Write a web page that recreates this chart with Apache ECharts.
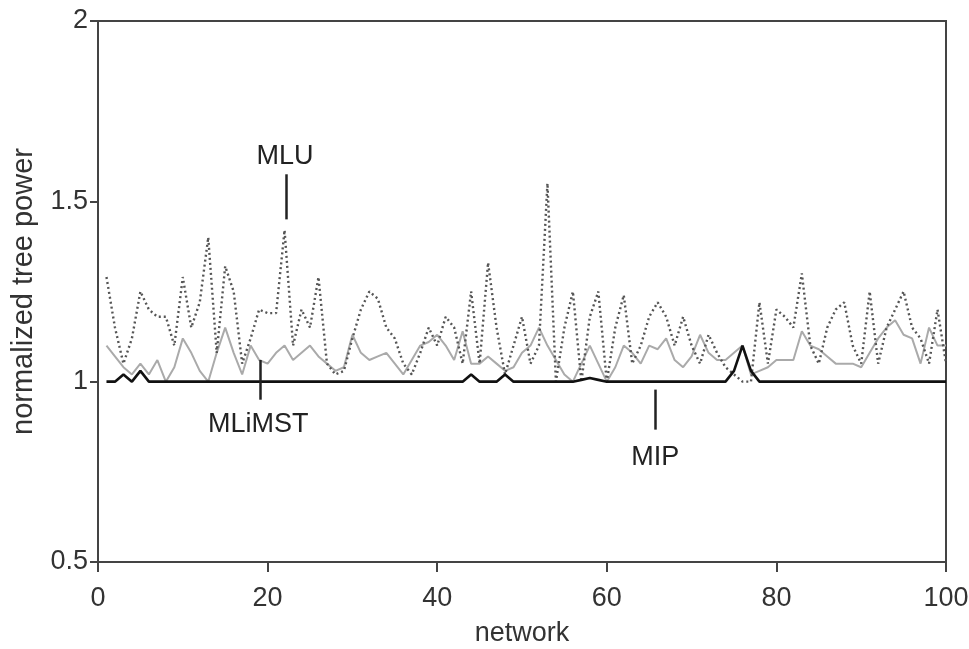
<!DOCTYPE html>
<html><head><meta charset="utf-8">
<script src="https://cdn.jsdelivr.net/npm/echarts@6/dist/echarts.min.js"></script>
<style>html,body{margin:0;padding:0;background:#fff}#c{width:969px;height:649px}</style>
</head><body><div id="c"></div>
<script>
const networks = Array.from({length:100},(_,i)=>i+1);
const mlu = [1.29,1.15,1.05,1.12,1.25,1.2,1.18,1.18,1.1,1.29,1.15,1.22,1.40,1.08,1.32,1.25,1.05,1.12,1.2,1.19,
1.19,1.42,1.1,1.2,1.15,1.29,1.05,1.02,1.03,1.12,1.2,1.25,1.23,1.15,1.12,1.05,1.02,1.08,1.15,1.1,
1.18,1.15,1.05,1.25,1.05,1.33,1.15,1.02,1.1,1.18,1.05,1.1,1.55,1.0,1.15,1.25,1.0,1.18,1.25,1.0,
1.15,1.24,1.05,1.1,1.18,1.22,1.18,1.1,1.18,1.1,1.05,1.13,1.08,1.04,1.02,1.0,1.0,1.22,1.05,1.2,
1.18,1.15,1.3,1.1,1.05,1.15,1.2,1.22,1.1,1.05,1.25,1.05,1.15,1.2,1.25,1.15,1.12,1.05,1.2,1.05];
const mlimst = [1.1,1.07,1.04,1.02,1.05,1.02,1.06,1.0,1.04,1.12,1.08,1.03,1.0,1.08,1.15,1.08,1.02,1.1,1.06,1.05,
1.08,1.1,1.06,1.08,1.1,1.07,1.05,1.03,1.04,1.13,1.08,1.06,1.07,1.08,1.05,1.02,1.06,1.1,1.11,1.13,
1.1,1.06,1.14,1.05,1.05,1.07,1.05,1.03,1.04,1.08,1.1,1.15,1.1,1.06,1.02,1.0,1.05,1.1,1.05,1.0,
1.04,1.1,1.08,1.05,1.1,1.09,1.12,1.06,1.04,1.07,1.13,1.08,1.06,1.06,1.08,1.1,1.02,1.03,1.04,1.06,
1.06,1.06,1.14,1.1,1.09,1.07,1.05,1.05,1.05,1.04,1.08,1.12,1.15,1.17,1.13,1.12,1.05,1.15,1.1,1.1];
const mip = networks.map(()=>1);
const mipBumps = {3:1.02,5:1.03,44:1.02,48:1.02,57:1.005,58:1.01,59:1.005,75:1.03,76:1.1,77:1.03};
Object.keys(mipBumps).forEach(k=>{mip[k-1]=mipBumps[k];});
const xTicks = [0,20,40,60,80,100];
const yTicks = [0.5,1,1.5,2];

const pair = arr => networks.map((n,i)=>[n,arr[i]]);
const font = "'Liberation Sans', Arial, sans-serif";
const chart = echarts.init(document.getElementById('c'));
const annot = (x,y,text)=>({coord:[x,y],symbol:'circle',symbolSize:1,itemStyle:{color:'rgba(0,0,0,0)'},
  label:{show:true,formatter:text,position:'inside',fontSize:27,color:'#222',fontFamily:font}});
const pointer = (x,y1,y2)=>[{coord:[x,y1],symbol:'none'},{coord:[x,y2],symbol:'none'}];
chart.setOption({
  animation:false,
  grid:{left:98,right:23,top:21,bottom:87,containLabel:false,outerBoundsMode:'none',
    show:true,borderColor:'#444',borderWidth:2,backgroundColor:'transparent'},
  xAxis:{type:'value',min:0,max:100,interval:20,name:'network',nameLocation:'middle',nameGap:58,
    nameTextStyle:{fontSize:27,color:'#333',fontFamily:font},
    axisLine:{show:true,lineStyle:{color:'#444',width:2}},
    axisTick:{show:true,length:10,lineStyle:{color:'#444',width:2}},
    axisLabel:{fontSize:27,color:'#333',fontFamily:font,margin:23,formatter:v=>xTicks.includes(v)?String(v):''},
    splitLine:{show:false}},
  yAxis:{type:'value',min:0.5,max:2,interval:0.5,name:'normalized tree power',nameLocation:'middle',nameGap:60,
    nameTextStyle:{fontSize:29,color:'#333',fontFamily:font},
    axisLine:{show:true,lineStyle:{color:'#444',width:2}},
    axisTick:{show:true,length:8,lineStyle:{color:'#444',width:2}},
    axisLabel:{fontSize:27,color:'#333',fontFamily:font,margin:10,formatter:v=>yTicks.includes(v)?String(v):''},
    splitLine:{show:false}},
  series:[
    {name:'MLiMST',type:'line',data:pair(mlimst),showSymbol:false,lineStyle:{color:'#aaa',width:2},z:2},
    {name:'MLU',type:'line',data:pair(mlu),showSymbol:false,lineStyle:{color:'#555',width:2.4,type:[2,3]},z:3,
     markPoint:{silent:true,data:[annot(22.05,1.625,'MLU'),annot(18.9,0.88,'MLiMST'),annot(65.7,0.79,'MIP')]},
     markLine:{silent:true,symbol:'none',label:{show:false},lineStyle:{color:'#222',width:2.5,type:'solid'},
       data:[pointer(22.2,1.575,1.45),pointer(19.1,1.06,0.95),pointer(65.7,0.978,0.867)]}},
    {name:'MIP',type:'line',data:pair(mip),showSymbol:false,lineStyle:{color:'#111',width:2.6},z:4}
  ]
});
</script></body></html>
